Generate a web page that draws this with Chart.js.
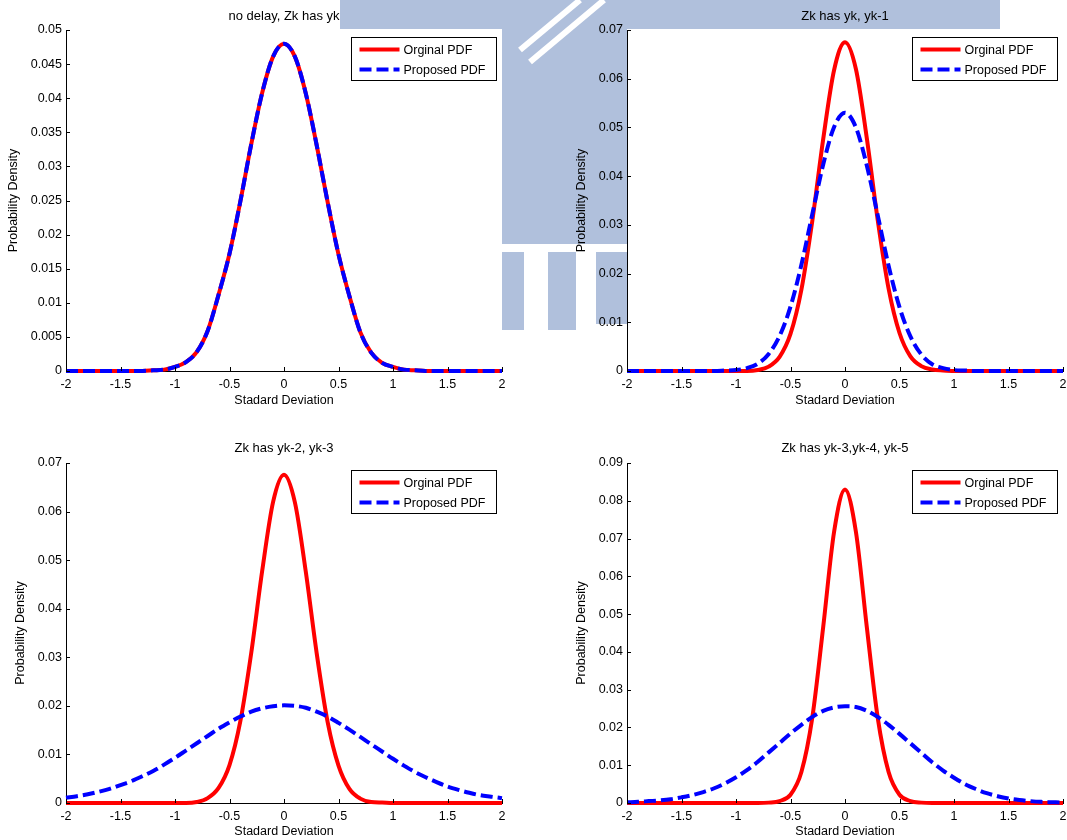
<!DOCTYPE html>
<html>
<head>
<meta charset="utf-8">
<script src="https://cdn.jsdelivr.net/npm/chart.js@4.4.1/dist/chart.umd.min.js"></script>
<style>
  html, body { margin: 0; padding: 0; background: #fff; }
  #page { position: relative; width: 1067px; height: 840px; overflow: hidden; }
  canvas { position: absolute; }
</style>
</head>
<body>
<div id="page">
  <canvas id="bg" width="1067" height="840" style="left:0;top:0"></canvas>
  <canvas id="c1" width="533" height="420" style="left:0;top:0"></canvas>
  <canvas id="c2" width="534" height="420" style="left:533px;top:0"></canvas>
  <canvas id="c3" width="533" height="420" style="left:0;top:420px"></canvas>
  <canvas id="c4" width="534" height="420" style="left:533px;top:420px"></canvas>
</div>
<script>
// x grid (standard deviation), shared by every curve
const xs = [-2, -1.9, -1.8, -1.7, -1.6, -1.5, -1.4, -1.3, -1.2, -1.1, -1, -0.9, -0.8, -0.7, -0.6, -0.5, -0.4, -0.3, -0.2, -0.1,
  0, 0.1, 0.2, 0.3, 0.4, 0.5, 0.6, 0.7, 0.8, 0.9, 1, 1.1, 1.2, 1.3, 1.4, 1.5, 1.6, 1.7, 1.8, 1.9, 2];

const xTicks = [-2, -1.5, -1, -0.5, 0, 0.5, 1, 1.5, 2];
const xTickLabels = ['-2', '-1.5', '-1', '-0.5', '0', '0.5', '1', '1.5', '2'];

// panel 1: no delay
const orig1 = [0, 0, 0, 0, 0, 0, 0, 0, 0.0001, 0.0002, 0.0006, 0.0013, 0.0028, 0.0059, 0.0112, 0.0172, 0.0249, 0.0333, 0.0408, 0.0461,
  0.0480, 0.0461, 0.0407, 0.0331, 0.0248, 0.0171, 0.0110, 0.0057, 0.0027, 0.0012, 0.0006, 0.0002, 0.0001, 0, 0, 0, 0, 0, 0, 0, 0];
const prop1 = [0, 0, 0, 0, 0, 0, 0, 0, 0.0001, 0.0002, 0.0006, 0.0013, 0.0028, 0.0059, 0.0112, 0.0172, 0.0249, 0.0333, 0.0408, 0.0461,
  0.0480, 0.0461, 0.0407, 0.0331, 0.0248, 0.0171, 0.0110, 0.0057, 0.0027, 0.0012, 0.0006, 0.0002, 0.0001, 0, 0, 0, 0, 0, 0, 0, 0];
const yTicks1 = [0, 0.005, 0.01, 0.015, 0.02, 0.025, 0.03, 0.035, 0.04, 0.045, 0.05];

// panel 2: yk, yk-1
const orig2 = [0, 0, 0, 0, 0, 0, 0, 0, 0, 0, 0, 0, 0.0002, 0.0009, 0.0029, 0.0076, 0.0167, 0.0308, 0.0476, 0.0618,
  0.0675, 0.0620, 0.0478, 0.0310, 0.0169, 0.0078, 0.0030, 0.0010, 0.0003, 0.0001, 0, 0, 0, 0, 0, 0, 0, 0, 0, 0, 0];
const prop2 = [0, 0, 0, 0, 0, 0, 0, 0, 0, 0.0001, 0.0002, 0.0006, 0.0015, 0.0035, 0.0072, 0.0132, 0.0218, 0.0322, 0.0424, 0.0501,
  0.0530, 0.0500, 0.0422, 0.0320, 0.0216, 0.0131, 0.0071, 0.0034, 0.0014, 0.0006, 0.0002, 0.0001, 0, 0, 0, 0, 0, 0, 0, 0, 0];
const yTicks2 = [0, 0.01, 0.02, 0.03, 0.04, 0.05, 0.06, 0.07];

// panel 3: yk-2, yk-3
const orig3 = [0, 0, 0, 0, 0, 0, 0, 0, 0, 0, 0, 0, 0.0002, 0.0010, 0.0031, 0.0078, 0.0169, 0.0310, 0.0478, 0.0620,
  0.0676, 0.0619, 0.0476, 0.0308, 0.0167, 0.0077, 0.0029, 0.0009, 0.0002, 0.0001, 0, 0, 0, 0, 0, 0, 0, 0, 0, 0, 0];
const prop3 = [0.0011, 0.0014, 0.0018, 0.0023, 0.0029, 0.0037, 0.0045, 0.0055, 0.0066, 0.0079, 0.0093, 0.0108, 0.0123, 0.0138, 0.0153, 0.0166, 0.0178, 0.0188, 0.0195, 0.0199,
  0.0201, 0.0200, 0.0196, 0.0188, 0.0178, 0.0165, 0.0151, 0.0136, 0.0121, 0.0106, 0.0091, 0.0077, 0.0064, 0.0053, 0.0043, 0.0034, 0.0027, 0.0021, 0.0016, 0.0013, 0.0010];
const yTicks3 = [0, 0.01, 0.02, 0.03, 0.04, 0.05, 0.06, 0.07];

// panel 4: yk-3, yk-4, yk-5
const orig4 = [0, 0, 0, 0, 0, 0, 0, 0, 0, 0, 0, 0, 0, 0.0001, 0.0005, 0.0022, 0.0082, 0.0226, 0.0466, 0.0718,
  0.0830, 0.0718, 0.0466, 0.0226, 0.0082, 0.0022, 0.0005, 0.0001, 0, 0, 0, 0, 0, 0, 0, 0, 0, 0, 0, 0, 0];
const prop4 = [0.0002, 0.0003, 0.0005, 0.0007, 0.0010, 0.0015, 0.0021, 0.0029, 0.0039, 0.0052, 0.0068, 0.0087, 0.0109, 0.0134, 0.0159, 0.0184, 0.0207, 0.0228, 0.0244, 0.0253,
  0.0256, 0.0254, 0.0244, 0.0228, 0.0207, 0.0183, 0.0158, 0.0133, 0.0108, 0.0086, 0.0067, 0.0050, 0.0037, 0.0026, 0.0018, 0.0012, 0.0008, 0.0005, 0.0003, 0.0002, 0.0001];
const yTicks4 = [0, 0.01, 0.02, 0.03, 0.04, 0.05, 0.06, 0.07, 0.08, 0.09];

const seriesNames = ['Orginal PDF', 'Proposed PDF'];

Chart.defaults.font.family = '"Liberation Sans", Arial, sans-serif';
Chart.defaults.font.size = 12.5;
Chart.defaults.color = '#000';

// faint watermark behind the figure
(function drawWatermark() {
  const c = document.getElementById('bg').getContext('2d');
  c.fillStyle = '#fff';
  c.fillRect(0, 0, 1067, 840);
  c.fillStyle = '#b0c0dc';
  c.fillRect(340, 0, 660, 29);
  c.fillRect(502, 29, 125, 215);
  c.fillRect(502, 252, 22, 78);
  c.fillRect(548, 252, 28, 78);
  c.fillRect(596, 252, 31, 72);
  c.strokeStyle = '#fff';
  c.lineWidth = 6;
  c.beginPath();
  c.moveTo(520, 50); c.lineTo(580, 0);
  c.moveTo(530, 62); c.lineTo(604, 0);
  c.stroke();
})();

const whiteArea = {
  id: 'whiteArea',
  beforeDraw(chart) {
    const {ctx, chartArea: a} = chart;
    ctx.save();
    ctx.fillStyle = '#fff';
    ctx.fillRect(a.left, a.top, a.right - a.left, a.bottom - a.top);
    ctx.restore();
  }
};

// MATLAB style ticks pointing into the axes
const inwardTicks = {
  id: 'inwardTicks',
  afterDatasetsDraw(chart) {
    const {ctx, chartArea: a, scales: {x, y}} = chart;
    ctx.save();
    ctx.strokeStyle = '#000';
    ctx.lineWidth = 1;
    ctx.beginPath();
    x.ticks.forEach(t => {
      const px = Math.round(x.getPixelForValue(t.value)) + 0.5;
      ctx.moveTo(px, a.bottom); ctx.lineTo(px, a.bottom - 4);
    });
    y.ticks.forEach(t => {
      const py = Math.round(y.getPixelForValue(t.value)) + 0.5;
      ctx.moveTo(a.left, py); ctx.lineTo(a.left + 4, py);
    });
    ctx.stroke();
    ctx.restore();
  }
};

// legend box inside the upper right corner of the axes
const boxLegend = {
  id: 'boxLegend',
  afterDraw(chart) {
    const {ctx, chartArea: a} = chart;
    const w = 145, h = 43;
    const bx = Math.round(a.right - 6 - w) + 0.5, by = Math.round(a.top + 7) + 0.5;
    ctx.save();
    ctx.fillStyle = '#fff';
    ctx.fillRect(bx, by, w, h);
    ctx.strokeStyle = '#000';
    ctx.lineWidth = 1;
    ctx.strokeRect(bx, by, w, h);
    chart.data.datasets.forEach((ds, i) => {
      const ly = by + 12 + i * 20;
      ctx.strokeStyle = ds.borderColor;
      ctx.lineWidth = ds.borderWidth;
      ctx.setLineDash(ds.borderDash || []);
      ctx.beginPath();
      ctx.moveTo(bx + 8, ly); ctx.lineTo(bx + 48, ly);
      ctx.stroke();
      ctx.setLineDash([]);
      ctx.fillStyle = '#000';
      ctx.font = '12.5px "Liberation Sans", Arial, sans-serif';
      ctx.textBaseline = 'middle';
      ctx.fillText(ds.label, bx + 52, ly + 1);
    });
    ctx.restore();
  }
};

function makePanel(id, title, orig, prop, yTicks, L) {
  const toPts = arr => xs.map((x, i) => ({x: x, y: arr[i]}));
  new Chart(document.getElementById(id), {
    type: 'line',
    data: {
      datasets: [
        {label: seriesNames[0], data: toPts(orig), borderColor: '#ff0000', borderWidth: 4,
         pointRadius: 0, cubicInterpolationMode: 'monotone', clip: false, order: 2},
        {label: seriesNames[1], data: toPts(prop), borderColor: '#0000ff', borderWidth: 4, borderDash: [12, 5],
         pointRadius: 0, cubicInterpolationMode: 'monotone', clip: false, order: 1}
      ]
    },
    options: {
      responsive: false,
      animation: false,
      events: [],
      layout: {padding: {left: 0, right: L.right, top: 0, bottom: 0}},
      plugins: {
        legend: {display: false},
        tooltip: {enabled: false},
        title: {display: true, text: title, fullSize: false, color: '#000',
                font: {size: 13, weight: 'normal'}, padding: {top: L.titleTop, bottom: L.titleBottom}}
      },
      scales: {
        x: {
          type: 'linear', min: -2, max: 2,
          grid: {display: false, drawTicks: false, tickLength: 0},
          border: {display: true, color: '#000', width: 1},
          afterBuildTicks: s => { s.ticks = xTicks.map(v => ({value: v})); },
          ticks: {padding: L.xTickPad, maxRotation: 0, autoSkip: false,
                  callback: (v) => xTickLabels[xTicks.indexOf(v)]},
          title: {display: true, text: 'Stadard Deviation', padding: {top: 0, bottom: L.xTitleBottom}},
          afterFit: s => { s.height = L.xHeight; s.paddingLeft = 0; s.paddingRight = 0; }
        },
        y: {
          min: 0, max: yTicks[yTicks.length - 1],
          grid: {display: false, drawTicks: false, tickLength: 0},
          border: {display: true, color: '#000', width: 1},
          afterBuildTicks: s => { s.ticks = yTicks.map(v => ({value: v})); },
          ticks: {padding: 4, autoSkip: false, callback: v => String(v)},
          title: {display: true, text: 'Probability Density', padding: {top: L.yTitleTop, bottom: 0}},
          afterFit: s => { s.width = L.yWidth; s.paddingTop = 0; s.paddingBottom = 0; }
        }
      }
    },
    plugins: [whiteArea, inwardTicks, boxLegend]
  });
}

makePanel('c1', 'no delay, Zk has yk', orig1, prop1, yTicks1,
  {right: 31, titleTop: 8.2, titleBottom: 6.2, xHeight: 49, xTickPad: 6, xTitleBottom: 12, yWidth: 66, yTitleTop: 6.5});
makePanel('c2', 'Zk has yk, yk-1', orig2, prop2, yTicks2,
  {right: 4, titleTop: 8.2, titleBottom: 6.2, xHeight: 49, xTickPad: 6, xTitleBottom: 12, yWidth: 94, yTitleTop: 41.5});
makePanel('c3', 'Zk has yk-2, yk-3', orig3, prop3, yTicks3,
  {right: 31, titleTop: 20.2, titleBottom: 7.2, xHeight: 37, xTickPad: 6, xTitleBottom: 0.5, yWidth: 66, yTitleTop: 13.5});
makePanel('c4', 'Zk has yk-3,yk-4, yk-5', orig4, prop4, yTicks4,
  {right: 4, titleTop: 20.2, titleBottom: 7.2, xHeight: 37, xTickPad: 6, xTitleBottom: 0.5, yWidth: 94, yTitleTop: 41.5});
</script>
</body>
</html>
